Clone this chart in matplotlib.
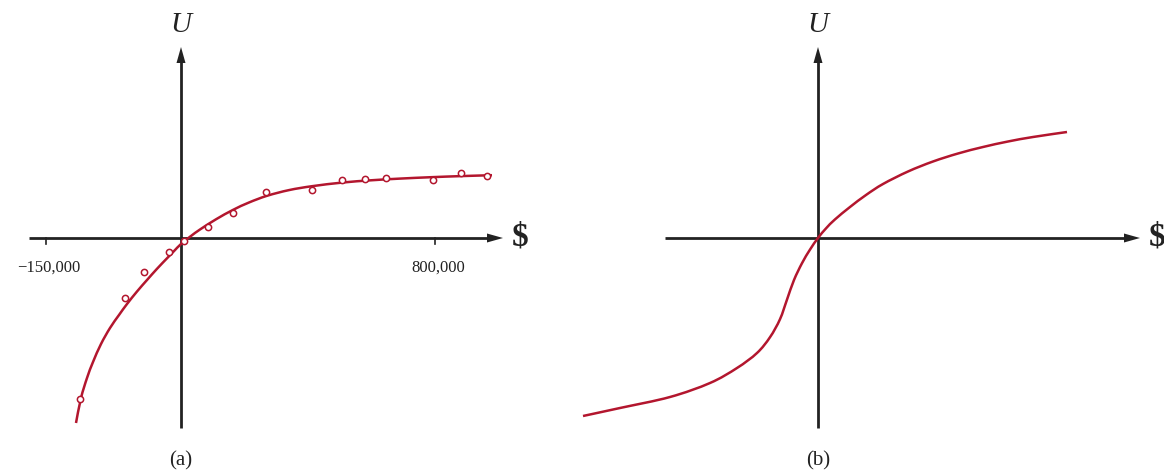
import matplotlib
matplotlib.use("Agg")
import matplotlib.pyplot as plt
from matplotlib.patches import FancyArrow, PathPatch
from matplotlib.path import Path

plt.rcParams['font.family'] = ['Liberation Serif', 'DejaVu Serif']

# ---------------- data (panel a: observed utilities and fitted curve) ----------------
obs_a_x = [-101, -56, -37, -12, 3, 27, 52, 85, 131, 161, 184, 205, 252, 280, 306]
obs_a_u = [-161, -60, -34, -14, -3, 11, 25, 46, 48, 58, 59, 60, 58, 65, 62]

fit_a_x = [-105, -100, -94, -88, -80, -71, -62, -54, -44, -34, -24, -14, -7, 0, 10, 19, 35,
           52, 68, 86, 108, 131, 162, 190, 219, 250, 280, 311]
fit_a_u = [-185, -160, -140, -124, -106, -90, -77, -66, -53.5, -42, -30.8, -20.3, -13.1, -6, 2, 8.5,
           18.7, 28.1, 35.5, 42.2, 47.9, 51.8, 55.5, 57.7, 59.4, 60.8, 61.9, 62.8]

tick_pos_a = [-135, 254]
tick_labels_a = ["\u2212150,000", "800,000"]

# ---------------- data (panel b: S-shaped utility curve) ----------------
curve_b_x = [-235, -198, -148, -108, -81, -61, -48, -38, -31, -24, -16, -8, 0, 8, 17,
             32, 48, 65, 90, 115, 140, 165, 190, 215, 249]
curve_b_u = [-178, -170, -159, -145, -130, -115, -99.2, -81.2, -61.6, -42, -25.2, -11.6, 0, 9.6, 18.6,
             31, 43, 54, 66.5, 76.5, 84.5, 91, 96.5, 101, 106]

panel_labels = ["(a)", "(b)"]

# ---------------- styles ----------------
RED = '#B3162E'
AX = '#222222'
W, H = 1164, 472

fig = plt.figure(figsize=(W / 100, H / 100), dpi=100)
fig.patch.set_facecolor('white')

# axes with 1 data unit = 1 pixel, origin at the crossing of the drawn axes
ax1 = fig.add_axes([0, 0, 580 / W, 1])
ax1.set_xlim(-181, 399)
ax1.set_ylim(-234, 238)
ax2 = fig.add_axes([580 / W, 0, 584 / W, 1])
ax2.set_xlim(-238, 346)
ax2.set_ylim(-234, 238)


def smooth_path(xs, us):
    """Path through the read points, drawn with Catmull-Rom style Bezier segments."""
    pts = list(zip(xs, us))
    verts = [pts[0]]
    codes = [Path.MOVETO]
    n = len(pts)
    for i in range(n - 1):
        p0 = pts[i - 1] if i > 0 else pts[i]
        p1 = pts[i]
        p2 = pts[i + 1]
        p3 = pts[i + 2] if i + 2 < n else pts[i + 1]
        c1 = (p1[0] + (p2[0] - p0[0]) / 6, p1[1] + (p2[1] - p0[1]) / 6)
        c2 = (p2[0] - (p3[0] - p1[0]) / 6, p2[1] - (p3[1] - p1[1]) / 6)
        verts += [c1, c2, p2]
        codes += [Path.CURVE4] * 3
    return Path(verts, codes)


def draw_curve(ax, xs, us):
    ax.add_patch(PathPatch(smooth_path(xs, us), facecolor='none', edgecolor=RED, lw=1.8,
                           capstyle='butt', joinstyle='round', zorder=3))


def draw_axes(ax, xleft, xtip, ybottom, ytip):
    lw = 2.0
    ax.plot([xleft, xtip - 12], [0, 0], color=AX, lw=lw, solid_capstyle='butt', zorder=1)
    ax.plot([0, 0], [ybottom, ytip - 12], color=AX, lw=lw, solid_capstyle='butt', zorder=1)
    ax.add_patch(FancyArrow(xtip - 16, 0, 16, 0, width=0.1, head_width=9, head_length=16,
                            length_includes_head=True, color=AX, lw=0, zorder=2))
    ax.add_patch(FancyArrow(0, ytip - 16, 0, 16, width=0.1, head_width=9, head_length=16,
                            length_includes_head=True, color=AX, lw=0, zorder=2))
    ax.text(0, 213, "U", fontsize=21, style='italic', ha='center', va='center', color=AX)
    ax.text(xtip + 17, 1, "$", fontsize=24, fontweight='bold', ha='center', va='center', color=AX)


for ax in (ax1, ax2):
    ax.set_axis_off()

# panel a
draw_axes(ax1, -152, 322, -190, 191)
for tp, tl in zip(tick_pos_a, tick_labels_a):
    ax1.plot([tp, tp], [0, -6], color=AX, lw=1.2)
    ax1.text(tp + 3, -30, tl, fontsize=12, ha='center', va='center', color=AX)
draw_curve(ax1, fit_a_x, fit_a_u)
ax1.plot(obs_a_x, obs_a_u, linestyle='none', marker='o', markersize=4.5, markerfacecolor='white',
         markeredgecolor=RED, markeredgewidth=1.1, zorder=4)
ax1.text(0, -223, panel_labels[0], fontsize=15, ha='center', va='center', color=AX)

# panel b
draw_axes(ax2, -153, 322, -190, 191)
draw_curve(ax2, curve_b_x, curve_b_u)
ax2.text(0, -223, panel_labels[1], fontsize=15, ha='center', va='center', color=AX)

fig.savefig("out.png", dpi=100, facecolor='white')
